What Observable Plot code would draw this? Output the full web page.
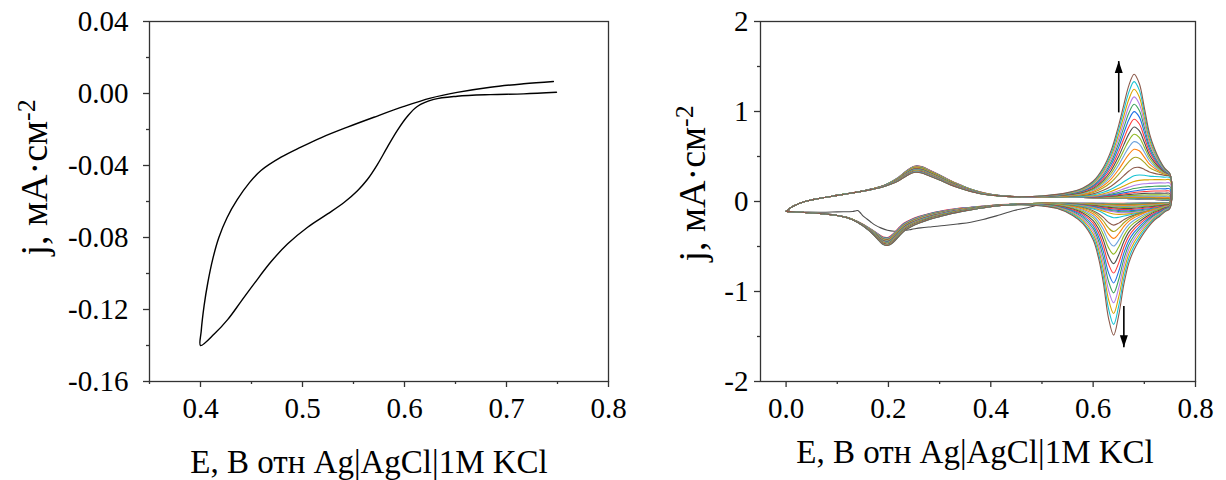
<!DOCTYPE html>
<html><head><meta charset="utf-8">
<script src="https://cdn.jsdelivr.net/npm/d3@7"></script>
<script src="https://cdn.jsdelivr.net/npm/@observablehq/plot@0.6"></script>
<style>
html,body{margin:0;padding:0;background:#fff;}
#wrap{position:relative;width:1226px;height:480px;overflow:hidden;background:#fff;}
#left{position:absolute;left:0;top:0;}
#right{position:absolute;left:640px;top:0;}
svg{overflow:visible;}
#wrap svg text{font-family:'Liberation Serif','Times New Roman',Times,serif !important;}
#wrap g[aria-label$="tick label"], #wrap g[aria-label$="tick label"] text{font-size:29px !important;}
</style></head><body><div id="wrap"><div id="left"></div><div id="right"></div></div>
<script>
// ---------- texts ----------
const xTitle = "E, B отн Ag|AgCl|1M KCl";
const yTitleMain = "j, мА·см";
const yTitleSup = "-2";

// ---------- left panel (single CV loop) ----------
const leftXTicks = [0.4, 0.5, 0.6, 0.7, 0.8];
const leftXMinor = [0.35, 0.45, 0.55, 0.65, 0.75];
const leftYTicks = [0.04, 0.00, -0.04, -0.08, -0.12, -0.16];
const leftYMinor = [0.02, -0.02, -0.06, -0.10, -0.14];
const leftE = [0.749, 0.7168, 0.6842, 0.6516, 0.6287, 0.6125, 0.6027, 0.593, 0.5832, 0.5734, 0.5636, 0.5539, 0.541, 0.5246, 0.505, 0.4855, 0.4691, 0.4528, 0.4398, 0.4268, 0.4137, 0.4,
  0.4007, 0.4035, 0.4072, 0.412, 0.418, 0.426, 0.436, 0.448, 0.4593, 0.479, 0.4984, 0.518, 0.544, 0.57, 0.5995, 0.6255, 0.6516, 0.6842, 0.7168, 0.746];
const leftJ = [0.0007, -0.0002, -0.0006, -0.0015, -0.0033, -0.0072, -0.0128, -0.0205, -0.0298, -0.0395, -0.0478, -0.054, -0.0604, -0.0669, -0.0743, -0.0835, -0.0935, -0.1055, -0.1155, -0.1255, -0.1335, -0.14,
  -0.132, -0.118, -0.105, -0.092, -0.08, -0.069, -0.059, -0.0495, -0.0428, -0.0354, -0.0298, -0.0246, -0.0187, -0.0132, -0.0072, -0.0026, 0.0006, 0.0035, 0.0054, 0.0067];

// ---------- right panel (multi-cycle CV) ----------
const rightXTicks = [0.0, 0.2, 0.4, 0.6, 0.8];
const rightXMinor = [0.1, 0.3, 0.5, 0.7];
const rightYTicks = [2, 1, 0, -1, -2];
const rightYMinor = [1.5, 0.5, -0.5, -1.5];

// anodic sweep nodes (0 -> 0.75)
const anodicE    = [0, 0.005, 0.01, 0.02, 0.035, 0.05, 0.075, 0.1, 0.125, 0.15, 0.17, 0.19, 0.205, 0.22, 0.235, 0.25, 0.265, 0.28, 0.3, 0.32, 0.34, 0.36, 0.38, 0.4, 0.43, 0.46, 0.5, 0.55, 0.58, 0.6, 0.62, 0.635, 0.65, 0.66, 0.67, 0.68, 0.69, 0.7, 0.71, 0.72, 0.73, 0.74, 0.75];
const anodicBase = [-0.11, -0.09, -0.065, -0.035, -0.002, 0.018, 0.045, 0.068, 0.092, 0.115, 0.14, 0.17, 0.205, 0.25, 0.31, 0.355, 0.35, 0.315, 0.265, 0.21, 0.165, 0.125, 0.095, 0.075, 0.058, 0.052, 0.05, 0.048, 0.045, 0.042, 0.04, 0.038, 0.036, 0.034, 0.032, 0.03, 0.028, 0.026, 0.024, 0.022, 0.02, 0.017, 0.014];
const anodicSmall= [0, 0, 0, 0, 0, 0, 0, 0, 0, 0.01, 0.02, 0.04, 0.08, 0.13, 0.19, 0.23, 0.24, 0.22, 0.19, 0.16, 0.13, 0.09, 0.06, 0.03, 0.01, 0, 0, 0, 0, 0, 0, 0, 0, 0, 0, 0, 0, 0, 0, 0, 0, 0, 0];
const anodicPeak = [0, 0, 0, 0, 0, 0, 0, 0, 0, 0, 0, 0, 0, 0, 0, 0, 0, 0, 0, 0, 0, 0, 0, 0, 0, 0, 0.01, 0.04, 0.08, 0.135, 0.245, 0.38, 0.59, 0.76, 0.92, 1.0, 0.9, 0.66, 0.41, 0.26, 0.15, 0.07, 0.02];
const anodicRamp = [0, 0, 0, 0, 0, 0, 0, 0, 0, 0, 0, 0, 0, 0, 0, 0, 0, 0, 0, 0, 0, 0, 0, 0, 0, 0, 0, 0.01, 0.035, 0.08, 0.17, 0.27, 0.4, 0.5, 0.6, 0.7, 0.78, 0.85, 0.9, 0.94, 0.97, 0.99, 1.0];

// cathodic sweep nodes (0.75 -> 0)
const cathodicE     = [0.75, 0.74, 0.73, 0.72, 0.71, 0.7, 0.69, 0.68, 0.67, 0.66, 0.65, 0.64, 0.63, 0.62, 0.61, 0.6, 0.58, 0.56, 0.53, 0.5, 0.46, 0.42, 0.39, 0.36, 0.33, 0.3, 0.28, 0.26, 0.245, 0.23, 0.22, 0.21, 0.2, 0.19, 0.18, 0.17, 0.16, 0.14, 0.12, 0.1, 0.075, 0.05, 0.03, 0.015, 0];
const cathodicBase  = [-0.01, -0.012, -0.013, -0.014, -0.015, -0.016, -0.017, -0.018, -0.019, -0.02, -0.02, -0.02, -0.02, -0.02, -0.02, -0.02, -0.02, -0.02, -0.019, -0.02, -0.027, -0.04, -0.058, -0.08, -0.105, -0.14, -0.168, -0.205, -0.24, -0.29, -0.345, -0.405, -0.445, -0.44, -0.395, -0.345, -0.3, -0.228, -0.18, -0.155, -0.138, -0.127, -0.12, -0.115, -0.11];
const cathodicSmall = [0, 0, 0, 0, 0, 0, 0, 0, 0, 0, 0, 0, 0, 0, 0, 0, 0, 0, 0, 0, 0.01, 0.03, 0.06, 0.1, 0.15, 0.2, 0.22, 0.25, 0.27, 0.3, 0.32, 0.32, 0.3, 0.28, 0.22, 0.15, 0.09, 0.03, 0.01, 0, 0, 0, 0, 0, 0];
const cathodicPeak  = [0.035, 0.055, 0.085, 0.11, 0.15, 0.2, 0.26, 0.33, 0.43, 0.6, 0.84, 1.0, 0.87, 0.6, 0.4, 0.27, 0.15, 0.09, 0.04, 0.02, 0.005, 0, 0, 0, 0, 0, 0, 0, 0, 0, 0, 0, 0, 0, 0, 0, 0, 0, 0, 0, 0, 0, 0, 0, 0];
const cathodicBroad = [0.35, 0.5, 0.6, 0.7, 0.78, 0.85, 0.92, 0.97, 1.0, 1.0, 0.97, 0.9, 0.8, 0.68, 0.56, 0.45, 0.27, 0.15, 0.06, 0.02, 0, 0, 0, 0, 0, 0, 0, 0, 0, 0, 0, 0, 0, 0, 0, 0, 0, 0, 0, 0, 0, 0, 0, 0, 0];

// per-cycle amplitudes (cycle 0 .. 31)
const cycleA  = [0, 0, 0, 0, 0, 0, 0, 0, 0, 0, 0, 0, 0, 0, 0, 0.005, 0.015, 0.035, 0.08, 0.16, 0.27, 0.361, 0.446, 0.528, 0.609, 0.695, 0.78, 0.861, 0.943, 1.028, 1.113, 1.195];
const cycleR  = [0, 0, 0, 0.002, 0.004, 0.007, 0.011, 0.016, 0.022, 0.03, 0.04, 0.055, 0.075, 0.1, 0.125, 0.155, 0.19, 0.225, 0.25, 0.265, 0.27, 0.27, 0.27, 0.27, 0.27, 0.27, 0.27, 0.27, 0.27, 0.27, 0.27, 0.27];
const cycleB  = [0, 0, 0, 0, 0, 0, 0, 0, 0, 0, 0, 0, 0, 0, 0, 0, 0, 0.02, 0.07, 0.17, 0.26, 0.345, 0.43, 0.52, 0.625, 0.73, 0.84, 0.95, 1.06, 1.18, 1.30, 1.42];
const cycleS  = [0, 0.001, 0.002, 0.003, 0.005, 0.007, 0.01, 0.014, 0.02, 0.027, 0.035, 0.045, 0.057, 0.07, 0.083, 0.095, 0.105, 0.11, 0.1, 0.08, 0.06, 0.05, 0.05, 0.05, 0.05, 0.05, 0.05, 0.05, 0.05, 0.05, 0.05, 0.05];
const cycleFA = [1.0, 1.16, 1.15, 1.14, 1.13, 1.12, 1.1, 1.09, 1.08, 1.06, 1.05, 1.04, 1.02, 1.01, 1.0, 0.99, 0.98, 0.97, 0.96, 0.95, 0.94, 0.93, 0.92, 0.91, 0.9, 0.9, 0.89, 0.88, 0.88, 0.87, 0.87, 0.86];
const cycleFC = [1.0, 0.84, 0.86, 0.87, 0.88, 0.9, 0.91, 0.92, 0.94, 0.95, 0.96, 0.98, 0.99, 1.0, 1.01, 1.02, 1.03, 1.04, 1.05, 1.06, 1.07, 1.08, 1.09, 1.1, 1.1, 1.11, 1.12, 1.12, 1.13, 1.13, 1.14, 1.14];

// first (conditioning) scan, cathodic part
const firstScanE = [0.5, 0.4715, 0.4455, 0.413, 0.385, 0.361, 0.335, 0.309, 0.285, 0.263, 0.245, 0.231, 0.2114, 0.198, 0.185, 0.175, 0.166, 0.158, 0.1496, 0.145, 0.14, 0.135, 0.13, 0.1, 0.07, 0.04, 0.02];
const firstScanJ = [-0.025, -0.07, -0.1, -0.156, -0.2, -0.23, -0.25, -0.267, -0.28, -0.293, -0.31, -0.322, -0.33, -0.32, -0.293, -0.265, -0.23, -0.195, -0.156, -0.125, -0.1, -0.105, -0.111, -0.115, -0.12, -0.118, -0.115];

const palette = ["#4d4d4d", "#ff3b3b", "#1f6fe5", "#3da35d", "#b27ce8", "#d9a300", "#17c3d3", "#8c5a4b", "#a8a320", "#ff7f0e", "#6fa3dc", "#8fb81f"];

const arrows = [{E: 0.65, from: 0.99, to: 1.56, rot: 0}, {E: 0.66, from: -1.16, to: -1.62, rot: 180}];

// ---------- build tables ----------
const leftData = leftE.map((e, i) => ({E: e, j: leftJ[i]}));

const rightData = [];
firstScanE.forEach((e, i) => rightData.push({E: e, j: firstScanJ[i], cycle: 0, color: palette[0]}));
for (let k = 0; k < cycleA.length; k++) {
  const color = palette[k % palette.length];
  anodicE.forEach((e, i) => rightData.push({E: e,
    j: anodicBase[i] + (cycleFA[k] - 1) * anodicSmall[i] + cycleA[k] * anodicPeak[i] + cycleR[k] * anodicRamp[i],
    cycle: k, color}));
  if (k === 0) continue;
  cathodicE.forEach((e, i) => rightData.push({E: e,
    j: cathodicBase[i] - (cycleFC[k] - 1) * cathodicSmall[i] - cycleB[k] * cathodicPeak[i] - cycleS[k] * cathodicBroad[i],
    cycle: k, color}));
}

// ---------- helpers ----------
const FONT = "'Liberation Serif', 'Times New Roman', Times, serif";
const AX = {stroke: "#333", strokeWidth: 1.3, fontFamily: FONT};
const headSymbol = {draw(ctx, size) { const r = Math.sqrt(size / Math.PI); ctx.moveTo(0, 0); ctx.lineTo(r, 3 * r); ctx.lineTo(-r, 3 * r); ctx.closePath(); }};

function addSup(svg) {
  svg.querySelectorAll("text").forEach(t => {
    if (t.textContent === yTitleMain) {
      const ts = document.createElementNS("http://www.w3.org/2000/svg", "tspan");
      ts.setAttribute("dy", "-0.45em");
      ts.setAttribute("font-size", "0.68em");
      ts.textContent = yTitleSup;
      t.appendChild(ts);
    }
  });
}

// ---------- left plot ----------
const leftPlot = Plot.plot({
  width: 640, height: 480,
  marginLeft: 149, marginRight: 32, marginTop: 21, marginBottom: 99,
  style: {fontFamily: FONT, fontSize: "29px", color: "#000", background: "transparent", overflow: "visible"},
  x: {domain: [0.35, 0.8]},
  y: {domain: [-0.16, 0.04]},
  marks: [
    Plot.axisX(leftXMinor, {anchor: "bottom", tickSize: 3, tickFormat: () => "", label: null, ...AX}),
    Plot.axisX(leftXTicks, {anchor: "bottom", tickSize: 6, tickPadding: 10, tickFormat: d => d.toFixed(1), label: null, fontSize: 29, ...AX}),
    Plot.axisY(leftYMinor, {anchor: "left", tickSize: 3, tickFormat: () => "", label: null, ...AX}),
    Plot.axisY(leftYTicks, {anchor: "left", tickSize: 6, tickPadding: 15, tickFormat: d => d.toFixed(2), label: null, fontSize: 29, ...AX}),
    Plot.frame({stroke: "#333", strokeWidth: 1.3}),
    Plot.line(leftData, {x: "E", y: "j", stroke: "#000", strokeWidth: 1.4, curve: "catmull-rom"}),
    Plot.text([xTitle], {text: d => d, frameAnchor: "bottom", textAnchor: "middle", dy: 91, dx: -10, fontSize: 33, fill: "#000"}),
    Plot.text([yTitleMain], {text: d => d, frameAnchor: "left", textAnchor: "middle", rotate: -90, dx: -115, dy: -24, fontSize: 38, fill: "#000"})
  ]
});
addSup(leftPlot);
document.getElementById("left").appendChild(leftPlot);

// ---------- right plot ----------
const rightPlot = Plot.plot({
  width: 586, height: 480,
  marginLeft: 120, marginRight: 31, marginTop: 21, marginBottom: 99,
  style: {fontFamily: FONT, fontSize: "29px", color: "#000", background: "transparent", overflow: "visible"},
  x: {domain: [-0.05, 0.8]},
  y: {domain: [-2, 2]},
  color: {type: "identity"},
  marks: [
    Plot.axisX(rightXMinor, {anchor: "bottom", tickSize: 3, tickFormat: () => "", label: null, ...AX}),
    Plot.axisX(rightXTicks, {anchor: "bottom", tickSize: 6, tickPadding: 10, tickFormat: d => d.toFixed(1), label: null, fontSize: 29, ...AX}),
    Plot.axisY(rightYMinor, {anchor: "left", tickSize: 3, tickFormat: () => "", label: null, ...AX}),
    Plot.axisY(rightYTicks, {anchor: "left", tickSize: 6, tickPadding: 6, tickFormat: d => String(d), label: null, fontSize: 29, ...AX}),
    Plot.frame({stroke: "#333", strokeWidth: 1.3}),
    Plot.line(rightData, {x: "E", y: "j", z: "cycle", stroke: "color", strokeWidth: 1.1, curve: "catmull-rom"}),
    Plot.link(arrows, {x1: "E", x2: "E", y1: "from", y2: "to", stroke: "#000", strokeWidth: 1.6}),
    Plot.dot(arrows, {x: "E", y: "to", symbol: headSymbol, r: 4, fill: "#000", stroke: "none", rotate: "rot"}),
    Plot.text([xTitle], {text: d => d, frameAnchor: "bottom", textAnchor: "middle", dy: 81, dx: -3, fontSize: 33, fill: "#000"}),
    Plot.text([yTitleMain], {text: d => d, frameAnchor: "left", textAnchor: "middle", rotate: -90, dx: -68, dy: -18, fontSize: 38, fill: "#000"})
  ]
});
addSup(rightPlot);
document.getElementById("right").appendChild(rightPlot);
</script>
</body></html>
